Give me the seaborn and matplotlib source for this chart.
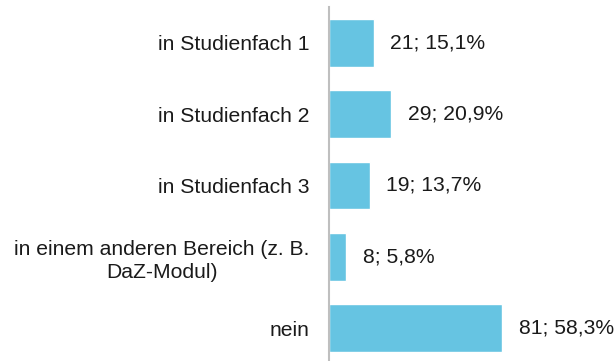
import matplotlib
matplotlib.use("Agg")
import matplotlib.pyplot as plt
import seaborn as sns
import pandas as pd

categories = [
    "in Studienfach 1",
    "in Studienfach 2",
    "in Studienfach 3",
    "in einem anderen Bereich (z. B.\nDaZ-Modul)",
    "nein",
]
counts = [21, 29, 19, 8, 81]
percents = ["15,1%", "20,9%", "13,7%", "5,8%", "58,3%"]

sns.set_theme(style="white")
plt.rcParams["font.family"] = ["Liberation Sans", "DejaVu Sans"]

df = pd.DataFrame({"Kategorie": categories, "Anzahl": counts})

fig = plt.figure(figsize=(6.15, 3.61), dpi=100)
ax = fig.add_axes([329 / 615, 1 - 364 / 361, 1 - 329 / 615, 357 / 361])

sns.barplot(data=df, y="Kategorie", x="Anzahl", orient="h",
            color="#66C4E2", saturation=1, width=0.67, ax=ax)

ax.set_xlim(0, 134)
ax.set_xlabel("")
ax.set_ylabel("")
ax.set_xticks([])

for side in ["top", "right", "bottom"]:
    ax.spines[side].set_visible(False)
ax.spines["left"].set_color("#BFBFBF")
ax.spines["left"].set_linewidth(1.5)

ax.tick_params(axis="y", length=0, pad=14, labelsize=15.2, labelcolor="#1a1a1a")
for lbl in ax.get_yticklabels():
    lbl.set_multialignment("center")
    lbl.set_linespacing(1.25)

labels = [f"{c}; {p}" for c, p in zip(counts, percents)]
ax.bar_label(ax.containers[0], labels=labels, padding=12,
             fontsize=15.2, color="#1a1a1a")

fig.savefig("out.png", dpi=100)
